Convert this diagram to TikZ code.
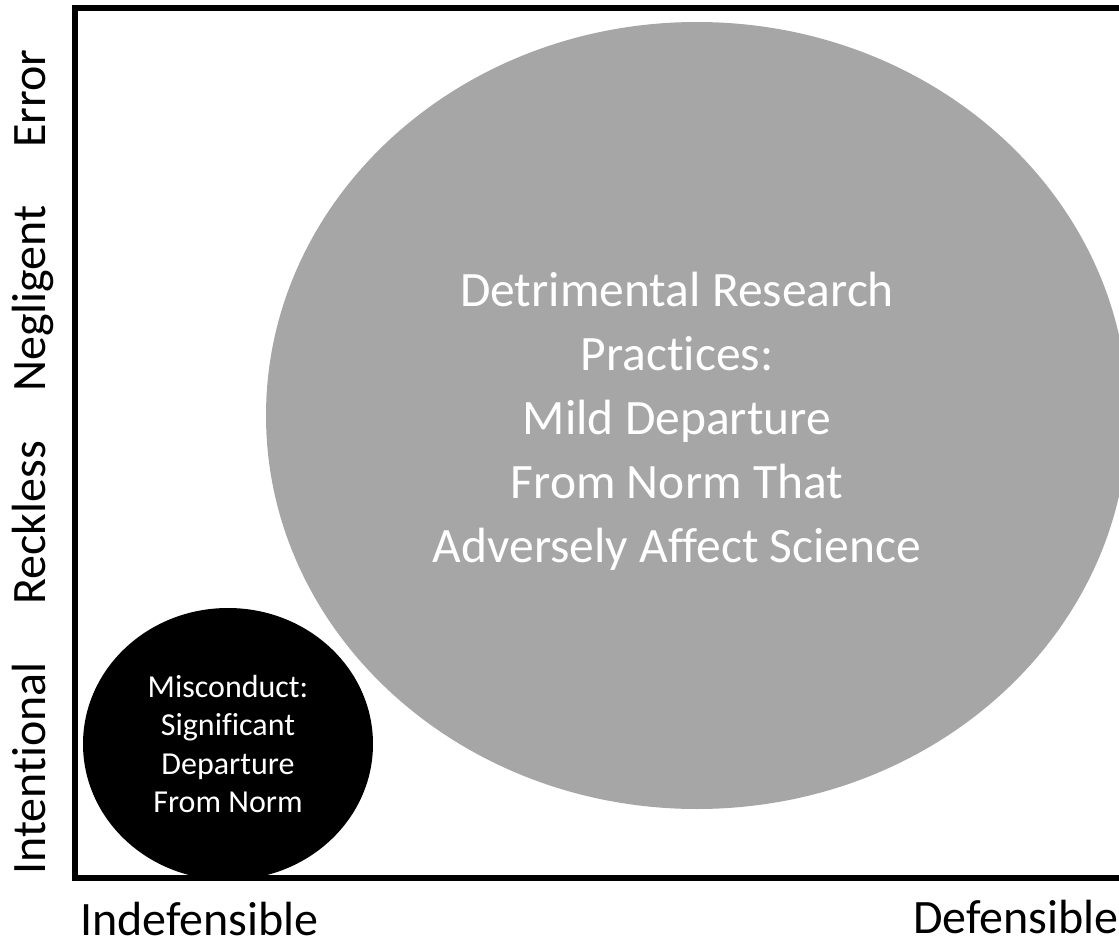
\documentclass[tikz,border=0pt]{standalone}
\usepackage{fontspec}
\setmainfont[Ligatures=NoCommon]{Carlito}
\usepackage{tikz}
\usetikzlibrary{shapes, positioning}
\definecolor{drpgray}{HTML}{A6A6A6}
\tikzset{
    x=1pt, y=-1pt, % One unit per pixel, y going down
    region/.style={ % Sets the properties for each region
        ellipse,
        inner sep=0pt,
        text=white,
        align=center
    },
    axislabel/.style={ % Labels on both axes
        font=\fontsize{48}{58}\selectfont,
        inner sep=0pt
    },
    bigtext/.style={ % Text in the large region
        font=\fontsize{49.5}{64}\selectfont,
        text=white,
        align=center,
        inner sep=0pt
    },
    smalltext/.style={ % Text in the small region
        font=\fontsize{32}{38.3}\selectfont
    }
}

\begin{document}
\begin{tikzpicture}
    \useasboundingbox (0,0) rectangle (1119,947);
    \clip (0,0) rectangle (1119,947);
    \node[region, fill=drpgray, minimum width=862pt, minimum height=787pt] (drp) at (697,415.5) {};
    \node[bigtext] (drptext) at ([xshift=-20pt, yshift=-5.5pt]drp.center)
        {Detrimental Research\\Practices:\\Mild Departure\\From Norm That\\Adversely Affect Science};
    \node[region, fill=black, minimum width=290pt, minimum height=272pt, smalltext] (misc) at (228,744)
        {Misconduct:\\Significant\\Departure\\From Norm};
    % axes
    \draw[line width=6.5pt] (75,8) rectangle (1126,878);
    \node[axislabel, rotate=90, anchor=base west] (intent) at (45,875) {Intentional};
    \node[axislabel, rotate=90, anchor=base west] (reck)   at (45,605) {Reckless};
    \node[axislabel, rotate=90, anchor=base west] (negl)   at (45,392) {Negligent};
    \node[axislabel, rotate=90, anchor=base west] (err)    at (45,148) {Error};
    \node[axislabel, anchor=base west] (indef) at (80,935)   {Indefensible};
    \node[axislabel, anchor=base east] (def)   at (1119,933) {Defensible};
\end{tikzpicture}
\end{document}
